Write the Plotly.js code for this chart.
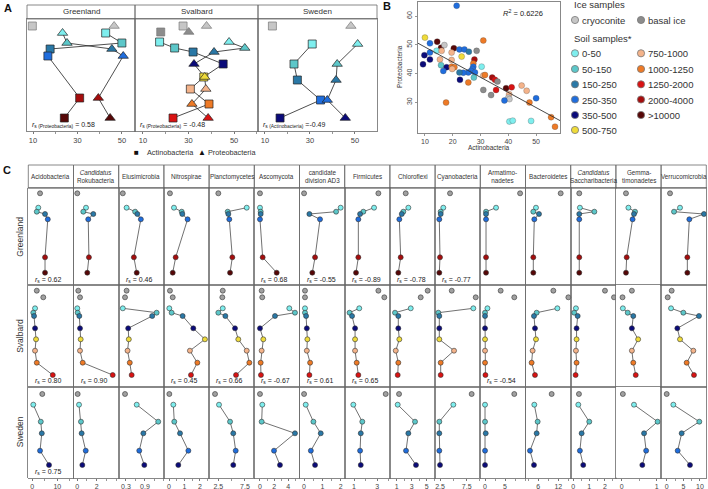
<!DOCTYPE html>
<html><head><meta charset="utf-8">
<script src="https://cdn.plot.ly/plotly-3.0.1.min.js"></script>
<style>html,body{margin:0;padding:0;background:#fff}#chart{width:708px;height:489px}</style>
</head><body><div id="chart"></div>
<script>
// ================= DATA =================
// depth classes (soil) and ice sample types
const depthClasses = ["0-50","50-150","150-250","250-350","350-500","500-750","750-1000","1000-1250","1250-2000","2000-4000",">10000"];
const depthColors  = ["#7eeeee","#5cc7c9","#2a78a6","#1f6ddd","#0b0b7a","#efdb3a","#f4b38a","#ee7a26","#d91212","#a50d0d","#560707"];
const iceClasses = ["cryoconite","basal ice"];
const iceColors  = ["#c6c6c6","#8c8c8c"];

// ---- Panel A (Actinobacteria squares / Proteobacteria triangles, % ) ----
const aSites = ["Greenland","Svalbard","Sweden"];
const aClassesGreenland = ["cryoconite","0-50","50-150","150-250","250-350","2000-4000",">10000"];
const aPosGreenland     = [7,14,24,30,37,79,99];
const aActinoGreenland  = [9.7,42.7,50,17.7,16.7,31,24.1];
const aProteoGreenland  = [46.5,23.3,25.3,45.5,50.6,39.4,44.7];
const aClassesSvalbard = ["cryoconite","basal ice","0-50","50-150","150-250","350-500","500-750","750-1000","1000-1250","1250-2000"];
const aPosSvalbard     = [7,13,23,29,33,45,58,70,85,99];
const aActinoSvalbard  = [27.6,17.8,17.3,23.9,32,45.2,36.7,30.8,39,23.2];
const aProteoSvalbard  = [37.9,30.1,47.8,54.7,41.2,32.4,37.1,37.6,31.5,38.6];
const aClassesSweden = ["cryoconite","0-50","50-150","150-250","250-350","350-500"];
const aPosSweden     = [7,25,45,61,81,99];
const aActinoSweden  = [13.3,31,22.9,24.4,34.7,16.7];
const aProteoSweden  = [48.2,51.2,42.1,41.6,37.7,45.7];
const aRsTaxon = ["Proteobacteria","Proteobacteria","Actinobacteria"];
const aRsValue = [" = 0.58"," = -0.48"," =-0.49"];

// ---- Panel B (scatter) ----
const bActino = [21.4,10,11.8,14.4,15.8,17,14.2,16,11.8,9.8,20.4,19.6,22.4,24.2,25.8,11.8,15.4,23.2,31,28.6,27.8,19.6,9.3,15.8,17.8,19.6,20.6,19.8,16.6,27.4,27.4,27.1,26.6,25.6,23.8,22.4,28,30.4,31,31.6,27.6,22.6,25.6,34.2,35.2,36.1,35.6,31,33.8,39.2,41.2,44.8,46.6,40.3,40,40.4,38.6,47.6,50,17.6,40.4,41.6,48.2,55.4,56.8];
const bProteo = [63.6,52.5,50.5,51.1,49.0,49.9,47.9,47.9,47.3,46.4,48.8,47.3,48.4,48.4,47.6,44.9,44.9,45.9,51.5,47.9,44.9,44.7,43.2,42.9,42.2,42.4,42.2,41.6,40.9,43.5,42.4,41.6,40.9,40.4,40.3,40.4,40.4,42.4,39.3,39.5,38.6,37.8,36.9,38.6,37.8,37.2,34.3,34.3,32.5,34.9,35.2,35.8,34.0,32.8,31.6,31.1,30.6,29.9,31.4,29.9,23.3,23.6,23.5,24.8,21.5];
const bClass  = ["250-350","500-750","250-350",">10000",">10000","cryoconite","0-50","750-1000","250-350","350-500",">10000","750-1000","250-350","250-350","150-250","350-500","750-1000","500-750","1000-1250","basal ice","2000-4000","750-1000","350-500","50-150","350-500","1000-1250","1000-1250","750-1000","250-350","1000-1250","250-350","250-350","250-350","250-350","250-350","150-250","250-350","0-50","750-1000","1000-1250","50-150","350-500","1000-1250","2000-4000","1250-2000","basal ice","1250-2000","basal ice","basal ice",">10000","1250-2000","750-1000","750-1000","750-1000","cryoconite","cryoconite","250-350","1000-1250","250-350","1000-1250","0-50","0-50","0-50","1000-1250","1000-1250"];
const bRegSlope = -0.527, bRegIntercept = 54.5;
const bR2 = "0.6226";

// ---- Panel C (relative abundance by depth, 15 taxa x 3 sites) ----
const cTaxa = ["Acidobacteria","<i>Candidatus</i><br>Rokubacteria","Elusimicrobia","Nitrospirae","Planctomycetes","Ascomycota","candidate<br>division AD3","Firmicutes","Chloroflexi","Cyanobacteria","Armatimo-<br>nadetes","Bacteroidetes","<i>Candidatus</i><br>Saccharibacteria","Gemma-<br>timonadetes","Verrucomicrobia"];
const cSites = ["Greenland","Svalbard","Sweden"];
const cClassesGreenland = ["cryoconite","0-50","50-150","150-250","250-350","2000-4000",">10000"];
const cPosGreenland = [5,19.4,23.4,25.7,31,69,84.4];
const cClassesSvalbard = ["cryoconite","basal ice","0-50","50-150","150-250","350-500","500-750","750-1000","1000-1250","1250-2000"];
const cPosSvalbard = [5.7,12.3,23.3,27.7,31,43.3,54.3,65.7,77.7,90];
const cClassesSweden = ["cryoconite","0-50","50-150","150-250","250-350","350-500"];
const cPosSweden = [7.3,18,35,46.6,64,78.3];
const cValsGreenland = [
 [3.1,2.4,1.8,5.1,6.2,5.1,5.1],
 [0,0.9,0.62,1.65,1.13,1.2,1.03],
 [0.2,0.32,0.59,0.66,0.77,0.55,0.64],
 [0.06,0.32,0.82,0.86,1.2,0.43,0.24],
 [2.5,7.83,4.26,4.38,4.56,5.13,4.7],
 [0,0,0.1,0.1,0,0.38,2.36],
 [0,2.0,1.75,0.29,0.87,0.6,0.45],
 [3.09,2.72,1.8,1.52,1.37,1.37,1.17],
 [2.2,2.55,1.88,1.67,1.35,1.53,1.21],
 [4.38,3.12,2.63,2.63,2.37,2.5,2.37],
 [8.75,2.75,0.25,0.25,0.25,0.25,0.25],
 [12.7,5.3,4.5,6.2,4.8,4.5,4.5],
 [0.38,0.42,1.33,0.38,0.38,0.38,0.38],
 [0.12,0.19,0.38,0.35,0.31,0.14,0.12],
 [1,4,2.2,11.2,6.8,6.2,6.2]];
const cValsSvalbard = [
 [1.8,4.4,1.1,0.4,0.7,1.1,1.5,1.1,1.8,8.2],
 [0.1,0.28,0,0.04,0.21,0.28,0.35,0.28,0.56,3.65],
 [0.32,0.27,0.2,1.27,1.13,0.37,0.39,0.35,0.42,0.48],
 [0.06,0.24,0.02,0.17,0.88,1.57,2.32,1.35,1.83,1.42],
 [3.33,3.25,3.33,2.5,3.82,5.63,6.25,7.83,8.32,5.82],
 [0.24,0.32,4.14,4.94,2.12,0,0.47,0.24,0.1,0.14],
 [0.05,0.05,0.05,0.05,0.11,0.15,0.18,0.15,0.33,0.29],
 [3.09,3.6,1.45,0.62,0.83,1.09,1.09,1.09,1.23,1.37],
 [5.13,4.2,2.87,0.77,1.21,1.21,1.35,0.87,1.21,1.13],
 [4.7,9.2,8.75,2.18,2.37,2.37,2.37,5.13,2.63,2.63],
 [3.9,7.3,0.6,0,0,0,0,0,0,0.1],
 [10.5,15,11.7,5.5,4.7,5,5.3,4.3,4,5],
 [2.0,2.57,0.17,0.06,0.28,0.21,0.21,0.17,0.21,0.15],
 [0.29,0.02,0.03,0.17,0.33,0.29,0.47,0.29,0.33,0.4],
 [1.5,0.3,1.3,5,9.7,3.2,4,8,6,8.2]];
const cValsSweden = [
 [4,0.4,3.4,3.8,3.1,6.7],
 [0.04,0.18,0.38,0.45,0.87,0.52],
 [0.27,0.64,1.32,0.85,0.72,0.88],
 [0.02,0.28,0.34,0.71,1.25,0.6],
 [1.88,2.63,4.7,5.3,5.76,5.3],
 [0,0.33,0.24,4.94,1.98,2.82],
 [0,0.09,0.51,0.91,0.37,0.6],
 [3.72,0.94,1.71,1.58,1.52,1.58],
 [1.31,1.13,3.44,2.55,2.24,3.57],
 [8.44,5,2.37,2.37,2.37,2.5],
 [7.3,0,0,0.17,0,0],
 [10,4.8,5.8,5.5,3.5,4.7],
 [0.36,0.32,1.01,0.53,0.42,0.63],
 [0.03,0.35,1.03,0.64,0.7,0.59],
 [0,2,9.8,4.5,3.3,7]];
const cRsGreenland = ["0.62",null,"0.46",null,null,"0.68","-0.55","-0.89","-0.78","-0.77",null,null,null,null,null];
const cRsSvalbard  = ["0.80","0.90",null,"0.45","0.66","-0.67","0.61","0.65",null,null,"-0.54",null,null,null,null];
const cRsSweden    = ["0.75",null,null,null,null,null,null,null,null,null,null,null,null,null,null];
const cTickVals = [[0,10],[0,2],[0.3,0.9],[0,1,2],[2.5,7.5],[0,2,4],[0,1,2],[1,3],[1,3,5],[2.5,7.5],[0,5],[6,12],[0,1,2],[0,1],[0,5,10]];
const cMinorStep = [5,1,0.3,0.5,2.5,1,0.5,1,1,2.5,2.5,3,0.5,0.5,2.5];

// ================= LAYOUT HELPERS =================
const W=708,H=489;
const FONT='Arial, "Liberation Sans", sans-serif';
function colorOf(c){const i=depthClasses.indexOf(c); if(i>=0) return depthColors[i]; return iceColors[iceClasses.indexOf(c)];}
function isIce(c){return iceClasses.indexOf(c)>=0;}
const layout={width:W,height:H,margin:{l:0,r:0,t:0,b:0},showlegend:false,paper_bgcolor:'#fff',plot_bgcolor:'#fff',
  font:{family:FONT,color:'#222'},annotations:[],shapes:[]};
const data=[];
let axN=0;
const LC='#6a6a6a';
function addAxes(x0,x1,top,bot,xcfg,ycfg){
  axN++; const s=axN===1?'':String(axN);
  layout['xaxis'+s]=Object.assign({domain:[x0/W,x1/W],anchor:'y'+s,showgrid:false,zeroline:false,showline:true,mirror:true,
    linecolor:LC,linewidth:0.8,ticks:'outside',ticklen:2.5,tickwidth:0.7,tickcolor:LC,tickfont:{size:7,color:'#444'},fixedrange:true},xcfg);
  layout['yaxis'+s]=Object.assign({domain:[1-bot/H,1-top/H],anchor:'x'+s,showgrid:false,zeroline:false,showline:true,mirror:true,
    linecolor:LC,linewidth:0.8,ticks:'',showticklabels:false,fixedrange:true},ycfg);
  return {x:'x'+s,y:'y'+s};
}
function ann(x,y,text,opt){layout.annotations.push(Object.assign({xref:'paper',yref:'paper',x:x/W,y:1-y/H,text:text,showarrow:false,
  font:{size:8,family:FONT,color:'#222'},xanchor:'center',yanchor:'middle'},opt));}
function rect(x0,y0,x1,y1,opt){layout.shapes.push(Object.assign({type:'rect',xref:'paper',yref:'paper',x0:x0/W,x1:x1/W,y0:1-y1/H,y1:1-y0/H,
  line:{color:LC,width:0.8},fillcolor:'rgba(0,0,0,0)'},opt));}
function dot(cx,cy,r,fill){layout.shapes.push({type:'circle',xref:'paper',yref:'paper',x0:(cx-r)/W,x1:(cx+r)/W,y0:1-(cy+r)/H,y1:1-(cy-r)/H,
  line:{color:'#777',width:0.8},fillcolor:fill});}

// ================= PANEL A =================
const aBoxes=[[27,135],[135,258],[258,377]], aTop=19, aBot=131;
const aXRanges=[[7.3,55.9],[6.5,60.5],[6.9,59.8]];
const aClasses=[aClassesGreenland,aClassesSvalbard,aClassesSweden];
const aPos=[aPosGreenland,aPosSvalbard,aPosSweden];
const aActino=[aActinoGreenland,aActinoSvalbard,aActinoSweden];
const aProteo=[aProteoGreenland,aProteoSvalbard,aProteoSweden];
for(let p=0;p<3;p++){
  const ax=addAxes(aBoxes[p][0],aBoxes[p][1],aTop,aBot,
    {range:aXRanges[p],tickmode:'array',tickvals:[10,30,50],tickfont:{size:7.5,color:'#444'},
     minor:{tickmode:'linear',tick0:0,dtick:10,ticks:'outside',ticklen:2.5,tickwidth:0.7,tickcolor:LC,showgrid:false}},
    {range:[112,0]});
  const cls=aClasses[p];
  const soil=cls.map((c,i)=>isIce(c)?-1:i).filter(i=>i>=0);
  [aActino[p],aProteo[p]].forEach(vals=>{
    data.push({type:'scatter',mode:'lines',xaxis:ax.x,yaxis:ax.y,x:soil.map(i=>vals[i]),y:soil.map(i=>aPos[p][i]),
      line:{color:'#222',width:0.8},hoverinfo:'skip'});
  });
  data.push({type:'scatter',mode:'markers',xaxis:ax.x,yaxis:ax.y,x:aActino[p],y:aPos[p],
    marker:{symbol:'square',size:8,color:cls.map(colorOf),line:{color:cls.map(c=>isIce(c)?'#777':'#222'),width:0.7}},hoverinfo:'skip'});
  data.push({type:'scatter',mode:'markers',xaxis:ax.x,yaxis:ax.y,x:aProteo[p],y:aPos[p],
    marker:{symbol:'triangle-up',size:9,color:cls.map(colorOf),line:{color:cls.map(c=>isIce(c)?'#777':'#222'),width:0.7}},hoverinfo:'skip'});
  rect(aBoxes[p][0],5,aBoxes[p][1],aTop);
  ann((aBoxes[p][0]+aBoxes[p][1])/2,12,aSites[p],{font:{size:8,family:FONT,color:'#333'}});
  ann(aBoxes[p][0]+3,125,'<i>r</i><sub>s ('+aRsTaxon[p]+')</sub>'+aRsValue[p],{xanchor:'left',font:{size:7,family:FONT,color:'#222'}});
}
ann(136,152.5,'■',{font:{size:8,family:FONT,color:'#111'}});
ann(145,152.5,'Actinobacteria',{xanchor:'left',font:{size:7.3,family:FONT,color:'#333'}});
ann(201.5,152,'▲',{font:{size:8,family:FONT,color:'#111'}});
ann(206,152.5,'Proteobacteria',{xanchor:'left',font:{size:7.3,family:FONT,color:'#333'}});
ann(8,8,'<b>A</b>',{font:{size:11,family:FONT,color:'#111'}});

// ================= PANEL B =================
const bXRange=[7.5,58.6], bYRange=[19.3,64.9];
const axB=addAxes(418,560,2,133,
  {range:bXRange,tickvals:[10,20,30,40,50],tickfont:{size:7,color:'#444'},ticklen:2},
  {range:bYRange,tickvals:[30,40,50,60],showticklabels:true,ticks:'outside',ticklen:2,tickwidth:0.7,tickcolor:LC,tickangle:-90,tickfont:{size:7,color:'#444'}});
data.push({type:'scatter',mode:'markers',xaxis:axB.x,yaxis:axB.y,x:bActino,y:bProteo,
  marker:{size:6,color:bClass.map(colorOf),line:{color:'rgba(70,70,70,0.55)',width:0.5}},hoverinfo:'skip'});
data.push({type:'scatter',mode:'lines',xaxis:axB.x,yaxis:axB.y,x:bXRange,y:bXRange.map(v=>bRegIntercept+bRegSlope*v),
  line:{color:'#333',width:0.9},hoverinfo:'skip'});
ann(489,147,'Actinobacteria',{font:{size:6.5,family:FONT,color:'#333'}});
ann(400,67,'Proteobacteria',{textangle:-90,font:{size:6.5,family:FONT,color:'#333'}});
ann(523,13,'<i>R</i><sup>2</sup> = '+bR2,{font:{size:7.5,family:FONT,color:'#222'}});
ann(387,6,'<b>B</b>',{font:{size:11,family:FONT,color:'#111'}});
// legend
ann(572,5,'Ice samples',{xanchor:'left',font:{size:9.5,family:FONT,color:'#333'}});
ann(572,38,'Soil samples*',{xanchor:'left',font:{size:9.5,family:FONT,color:'#333'}});
const legCol=[575,641], legRowY=[53.3,69,84.3,99.5,115,130];
iceClasses.forEach((c,i)=>{dot(legCol[i],20,3.6,iceColors[i]);ann(legCol[i]+5,20.5,c,{xanchor:'left',font:{size:9.5,family:FONT,color:'#333'}});});
depthClasses.forEach((c,i)=>{const col=i<6?0:1,row=i<6?i:i-6;
  dot(legCol[col],legRowY[row],3.6,depthColors[i]);
  ann(legCol[col]+5,legRowY[row]+0.5,c,{xanchor:'left',font:{size:9.5,family:FONT,color:'#333'}});});

// ================= PANEL C =================
const cLeft=28.3, cW=45.2;
const cRows=[{top:188.3,bot:285},{top:285,bot:386.7},{top:386.7,bot:477.7}];
const cClasses=[cClassesGreenland,cClassesSvalbard,cClassesSweden];
const cPos=[cPosGreenland,cPosSvalbard,cPosSweden];
const cVals=[cValsGreenland,cValsSvalbard,cValsSweden];
const cRs=[cRsGreenland,cRsSvalbard,cRsSweden];
const cRanges=[[-1.6,16.5],[-0.39,4.27],[0.07,1.5],[-0.33,2.59],[0.77,9.25],[-0.8,5.58],[-0.25,2.22],[0.2,4.08],[0.09,6.12],[1.58,10.06],[-1.18,10.1],[2.16,15.7],[-0.16,2.69],[-0.17,1.13],[-1.68,11.9]];
for(let c=0;c<15;c++){
  const x0=cLeft+cW*c, x1=x0+cW;
  rect(x0,165,x1,188.3);
  ann((x0+x1)/2,176.6,cTaxa[c],{font:{size:6.3,family:FONT,color:'#333'}});
  for(let r=0;r<3;r++){
    const last=r===2;
    const rowH=cRows[r].bot-cRows[r].top;
    const ax=addAxes(x0,x1,cRows[r].top,cRows[r].bot,
      last?{range:cRanges[c],tickmode:'array',tickvals:cTickVals[c],
            minor:{tickmode:'linear',tick0:0,dtick:cMinorStep[c],ticks:'outside',ticklen:2.5,tickwidth:0.7,tickcolor:LC,showgrid:false}}
          :{range:cRanges[c],ticks:'',showticklabels:false},
      {range:[rowH,0]});
    const cls=cClasses[r], vals=cVals[r][c], pos=cPos[r];
    const soil=cls.map((k,i)=>isIce(k)?-1:i).filter(i=>i>=0);
    data.push({type:'scatter',mode:'lines',xaxis:ax.x,yaxis:ax.y,x:soil.map(i=>vals[i]),y:soil.map(i=>pos[i]),
      line:{color:'#333',width:0.7},hoverinfo:'skip'});
    data.push({type:'scatter',mode:'markers',xaxis:ax.x,yaxis:ax.y,x:vals,y:pos,
      marker:{size:5,color:cls.map(k=>isIce(k)?'#a0a0a0':colorOf(k)),line:{color:'#333',width:0.6}},hoverinfo:'skip',cliponaxis:false});
    if(cRs[r][c]!==null){
      ann(x0+5,cRows[r].bot-5.5,'<i>r</i><sub>s</sub> = '+cRs[r][c],{xanchor:'left',font:{size:7,family:FONT,color:'#222'}});
    }
  }
}
cSites.forEach((s,r)=>ann(20,(cRows[r].top+cRows[r].bot)/2,s,{textangle:-90,font:{size:8.5,family:FONT,color:'#333'}}));
ann(7,170,'<b>C</b>',{font:{size:11,family:FONT,color:'#111'}});

Plotly.newPlot('chart',data,layout,{staticPlot:true,displayModeBar:false});
</script></body></html>
